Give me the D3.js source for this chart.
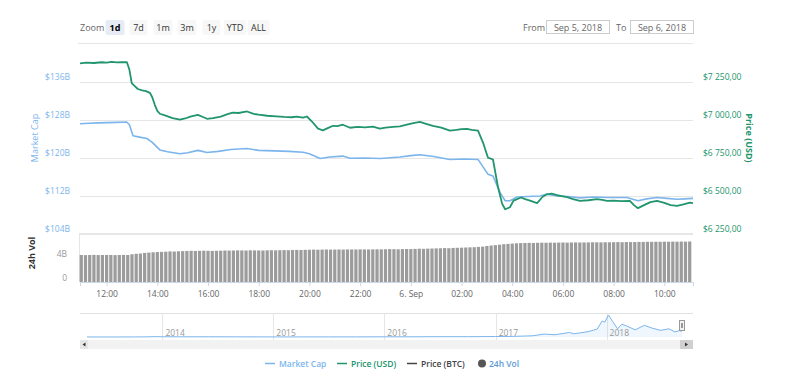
<!DOCTYPE html>
<html>
<head>
<meta charset="utf-8">
<script src="https://cdn.jsdelivr.net/npm/d3@7"></script>
<style>
  body { margin: 0; background: #fff; }
  svg { font-family: "Open Sans", sans-serif; display: block; }
</style>
</head>
<body>
<div id="chart"></div>
<script>
// ---- data ----
var zoomButtons = ['1d', '7d', '1m', '3m', '1y', 'YTD', 'ALL'];
var fromDate = 'Sep 5, 2018';
var toDate = 'Sep 6, 2018';

// hours since Sep 5 2018 00:00 UTC
var priceHours = [10.95, 11.2, 11.5, 11.8, 12.0, 12.2, 12.4, 12.6, 12.8, 12.9, 12.99, 13.1, 13.23, 13.4, 13.55, 13.71, 13.8, 13.9,
  14.0, 14.1, 14.3, 14.6, 14.89, 15.1, 15.3, 15.6, 15.8, 15.96, 16.2, 16.5, 16.8, 16.98, 17.2, 17.54, 17.8, 18.0, 18.33, 18.7,
  19.0, 19.3, 19.5, 19.75, 19.9, 20.1, 20.34, 20.53, 20.7, 20.93, 21.1, 21.32, 21.6, 21.9, 22.2, 22.5, 22.78, 23.0, 23.3, 23.57,
  23.8, 24.1, 24.36, 24.6, 24.87, 25.2, 25.54, 25.8, 26.0, 26.21, 26.4, 26.65, 26.85, 27.04, 27.24, 27.44, 27.6, 27.72, 27.91,
  28.05, 28.19, 28.35, 28.51, 28.7, 28.98, 29.2, 29.37, 29.55, 29.77, 30.0, 30.16, 30.4, 30.67, 31.0, 31.34, 31.55, 31.74, 32.0,
  32.3, 32.64, 32.8, 32.96, 33.2, 33.45, 33.71, 34.0, 34.25, 34.5, 34.75, 35.01, 35.13];
var priceUsd = [7372, 7378, 7375, 7380, 7377, 7383, 7379, 7381, 7380, 7330, 7243, 7225, 7204, 7195, 7190, 7178, 7150, 7100,
  7060, 7041, 7030, 7012, 7002, 7010, 7022, 7034, 7020, 7008, 7012, 7022, 7040, 7049, 7046, 7056, 7040, 7035, 7028, 7024,
  7020, 7018, 7022, 7015, 7023, 6990, 6943, 6932, 6945, 6962, 6960, 6969, 6949, 6955, 6952, 6956, 6943, 6950, 6955, 6958,
  6968, 6980, 6987, 6975, 6962, 6950, 6930, 6935, 6940, 6941, 6935, 6930, 6850, 6753, 6740, 6557, 6450, 6413, 6426,
  6470, 6479, 6490, 6479, 6470, 6453, 6495, 6511, 6515, 6505, 6498, 6492, 6480, 6468, 6472, 6479, 6475, 6468, 6470,
  6466, 6468, 6440, 6420, 6440, 6460, 6468, 6455, 6440, 6435, 6445, 6457, 6453];

var capHours = [10.95, 11.3, 11.7, 12.0, 12.4, 12.79, 12.9, 13.04, 13.3, 13.59, 13.8, 14.1, 14.4, 14.89, 15.2, 15.6, 15.96,
  16.4, 16.9, 17.54, 18.0, 18.6, 19.2, 19.75, 20.0, 20.42, 20.8, 21.32, 21.6, 22.2, 22.8, 23.57, 24.0, 24.36, 24.9, 25.54,
  26.1, 26.65, 27.04, 27.24, 27.52, 27.72, 27.91, 28.19, 28.6, 29.1, 29.37, 29.77, 30.2, 30.67, 31.2, 31.8, 32.52, 32.96,
  33.3, 33.71, 34.1, 34.5, 34.8, 35.13];
var marketCap = [127.2, 127.3, 127.4, 127.45, 127.5, 127.57, 127.0, 124.7, 124.4, 124.1, 123.3, 121.7, 121.3, 120.9, 121.1, 121.6, 121.15,
  121.4, 121.8, 122.0, 121.6, 121.5, 121.4, 121.2, 120.9, 119.9, 120.2, 120.4, 119.96, 120.0, 119.9, 120.2, 120.5, 120.7, 120.3, 119.7,
  119.8, 119.7, 116.6, 116.2, 112.7, 111.0, 111.0, 111.8, 111.9, 112.0, 112.4, 112.0, 111.9, 111.6, 111.8, 111.7, 111.7, 111.0,
  111.4, 111.7, 111.5, 111.3, 111.4, 111.5];

// 24h volume (billions), every 10 minutes from Sep 5 11:00 to Sep 6 11:00
var volume = [
  4.50, 4.48, 4.50, 4.52, 4.49, 4.50, 4.51, 4.50, 4.48, 4.50, 4.52, 4.50,
  4.62, 4.70, 4.75, 4.85, 4.90, 4.95, 5.00, 5.02, 5.05, 5.10, 5.08, 5.12,
  5.15, 5.18, 5.20, 5.18, 5.20, 5.22, 5.20, 5.18, 5.20, 5.22, 5.25, 5.24,
  5.25, 5.27, 5.26, 5.25, 5.28, 5.27, 5.26, 5.25, 5.28, 5.30, 5.28, 5.30,
  5.32, 5.30, 5.33, 5.35, 5.33, 5.36, 5.38, 5.40, 5.38, 5.40, 5.42, 5.40,
  5.40, 5.42, 5.41, 5.43, 5.42, 5.42, 5.44, 5.43, 5.42, 5.44, 5.45, 5.44,
  5.46, 5.48, 5.47, 5.45, 5.48, 5.50, 5.49, 5.52, 5.55, 5.53, 5.56, 5.58,
  5.60, 5.62, 5.65, 5.63, 5.68, 5.70, 5.72, 5.75, 5.78, 5.80, 5.85, 5.90,
  6.00, 6.08, 6.15, 6.22, 6.30, 6.35, 6.40, 6.45, 6.48, 6.50, 6.52, 6.50,
  6.53, 6.55, 6.54, 6.56, 6.55, 6.57, 6.58, 6.56, 6.58, 6.60, 6.58, 6.59,
  6.60, 6.62, 6.61, 6.60, 6.63, 6.62, 6.64, 6.65, 6.63, 6.66, 6.65, 6.66,
  6.68, 6.67, 6.70, 6.69, 6.71, 6.70, 6.72, 6.71, 6.73, 6.72, 6.74, 6.73,
  6.75];

var capTicks = [104, 112, 120, 128, 136];
var priceTicks = [6250, 6500, 6750, 7000, 7250];
var volTicks = [0, 4];

// navigator: total market cap history (billions)
var navDates = ['2013-04-28', '2013-07-01', '2013-10-01', '2013-11-15', '2013-12-05', '2014-01-01', '2014-03-01', '2014-06-01',
  '2014-09-01', '2014-12-01', '2015-01-15', '2015-04-01', '2015-07-01', '2015-10-01', '2016-01-01', '2016-04-01', '2016-06-15',
  '2016-10-01', '2017-01-01', '2017-03-01', '2017-05-01', '2017-06-10', '2017-07-15', '2017-09-01', '2017-09-15', '2017-11-01',
  '2017-12-01', '2017-12-17', '2017-12-26', '2018-01-07', '2018-01-20', '2018-02-06', '2018-02-20', '2018-03-05', '2018-04-05',
  '2018-05-05', '2018-06-01', '2018-06-28', '2018-07-25', '2018-08-14', '2018-08-28', '2018-09-06'];
var navCap = [1.5, 1.1, 2.2, 6, 14, 10, 7, 8, 5.5, 4.5, 3.2, 3.4, 4.3, 4.4, 6.6, 7.6, 11.5, 11.6, 17.7, 23, 45, 110, 85, 170, 120, 200,
  300, 600, 560, 830, 600, 310, 480, 430, 270, 440, 330, 250, 310, 190, 240, 220];
var navYears = ['2014', '2015', '2016', '2017', '2018'];

// ---- setup ----
var W = 787, H = 373;
var left = 80, right = 693;
var blue = '#7cb5ec', green = '#21956b';

var svg = d3.select('#chart').append('svg')
  .attr('width', W)
  .attr('height', H);

function hourDate(h) { return new Date(Date.UTC(2018, 8, 5) + h * 3600000); }

var x = d3.scaleUtc()
  .domain([hourDate(10.95), hourDate(35.13)])
  .range([left, right]);

var yCap = d3.scaleLinear().domain([104, 136]).range([234, 82]);
var yPrice = d3.scaleLinear().domain([6250, 7250]).range([234, 82]);
var yVol = d3.scaleLinear().domain([0, 4]).range([282, 258]);

var loc = d3.formatLocale({decimal: ',', thousands: ' ', grouping: [3], currency: ['$', '']});
var priceFmt = loc.format('$,.2f');

// ---- range selector ----
svg.append('text').attr('x', 80).attr('y', 31)
  .attr('font-size', 9).attr('fill', '#666').text('Zoom');

var btnX = [115, 138.5, 163, 187, 211.5, 235, 258.5];
var btnW = [19, 18, 19, 19, 18, 22, 22];
var btn = svg.selectAll('.btn').data(zoomButtons).enter().append('g');
btn.append('rect')
  .attr('x', function(d, i) { return btnX[i] - btnW[i] / 2; })
  .attr('y', 20).attr('width', function(d, i) { return btnW[i]; }).attr('height', 15)
  .attr('rx', 2)
  .attr('fill', function(d, i) { return i == 0 ? '#e6ebf5' : '#f7f7f7'; });
btn.append('text')
  .attr('x', function(d, i) { return btnX[i]; }).attr('y', 31)
  .attr('text-anchor', 'middle').attr('font-size', 9)
  .attr('font-weight', function(d, i) { return i == 0 ? 'bold' : 'normal'; })
  .attr('fill', function(d, i) { return i == 0 ? '#000' : '#333'; })
  .text(function(d) { return d; });

svg.append('text').attr('x', 523).attr('y', 31).attr('font-size', 9).attr('fill', '#666').text('From');
svg.append('rect').attr('x', 546.5).attr('y', 20.5).attr('width', 63).attr('height', 13)
  .attr('fill', '#fff').attr('stroke', '#ccc');
svg.append('text').attr('x', 578).attr('y', 30.5).attr('text-anchor', 'middle')
  .attr('font-size', 9).attr('fill', '#666').text(fromDate);
svg.append('text').attr('x', 616).attr('y', 31).attr('font-size', 9).attr('fill', '#666').text('To');
svg.append('rect').attr('x', 630.5).attr('y', 20.5).attr('width', 63).attr('height', 13)
  .attr('fill', '#fff').attr('stroke', '#ccc');
svg.append('text').attr('x', 662).attr('y', 30.5).attr('text-anchor', 'middle')
  .attr('font-size', 9).attr('fill', '#666').text(toDate);

svg.append('line').attr('x1', 78).attr('x2', right).attr('y1', 43.5).attr('y2', 43.5)
  .attr('stroke', '#e6e6e6');

// ---- price pane ----
svg.append('g').selectAll('line').data(capTicks).enter().append('line')
  .attr('x1', left).attr('x2', right)
  .attr('y1', function(d) { return Math.round(yCap(d)) + 0.5; })
  .attr('y2', function(d) { return Math.round(yCap(d)) + 0.5; })
  .attr('stroke', '#e6e6e6');

svg.append('g').selectAll('text').data(capTicks).enter().append('text')
  .attr('x', 70).attr('y', function(d) { return yCap(d) - 2; })
  .attr('text-anchor', 'end').attr('font-size', 8.5).attr('fill', blue)
  .text(function(d) { return '$' + d + 'B'; });

svg.append('g').selectAll('text').data(priceTicks).enter().append('text')
  .attr('x', 703).attr('y', function(d) { return yPrice(d) - 2; })
  .attr('font-size', 8.5).attr('fill', green)
  .text(function(d) { return priceFmt(d); });

svg.append('text')
  .attr('transform', 'translate(38,138) rotate(-90)')
  .attr('text-anchor', 'middle').attr('font-size', 9).attr('fill', blue)
  .text('Market Cap');
svg.append('text')
  .attr('transform', 'translate(746,138) rotate(90)')
  .attr('text-anchor', 'middle').attr('font-size', 9).attr('font-weight', 'bold').attr('fill', green)
  .text('Price (USD)');

var capLine = d3.line()
  .x(function(d, i) { return x(hourDate(capHours[i])); })
  .y(function(d) { return yCap(d); });
var priceLine = d3.line()
  .x(function(d, i) { return x(hourDate(priceHours[i])); })
  .y(function(d) { return yPrice(d); });

svg.append('path').datum(marketCap)
  .attr('d', capLine).attr('fill', 'none')
  .attr('stroke', blue).attr('stroke-width', 1.6).attr('stroke-linejoin', 'round');
svg.append('path').datum(priceUsd)
  .attr('d', priceLine).attr('fill', 'none')
  .attr('stroke', green).attr('stroke-width', 1.8).attr('stroke-linejoin', 'round');

// ---- volume pane ----
svg.append('line').attr('x1', 79).attr('x2', right).attr('y1', 233.5).attr('y2', 233.5).attr('stroke', '#e6e6e6');
svg.append('line').attr('x1', 79.5).attr('x2', 79.5).attr('y1', 233.5).attr('y2', 282).attr('stroke', '#e6e6e6');

var volTimes = d3.utcMinute.every(10).range(hourDate(11), hourDate(35.01));
var step = x(volTimes[1]) - x(volTimes[0]);

svg.append('g').selectAll('rect').data(volume).enter().append('rect')
  .attr('x', function(d, i) { return x(volTimes[i]) - step / 2 + 0.5; })
  .attr('y', function(d) { return yVol(d); })
  .attr('width', step - 1)
  .attr('height', function(d) { return yVol(0) - yVol(d); })
  .attr('fill', '#9c9c9c');

svg.append('g').selectAll('text').data(volTicks).enter().append('text')
  .attr('x', 67).attr('y', function(d) { return yVol(d) - 1.5; })
  .attr('text-anchor', 'end').attr('font-size', 8.5).attr('fill', '#999')
  .text(function(d) { return d == 0 ? '0' : d + 'B'; });

svg.append('text')
  .attr('transform', 'translate(35,253) rotate(-90)')
  .attr('text-anchor', 'middle').attr('font-size', 9).attr('font-weight', 'bold').attr('fill', '#333')
  .text('24h Vol');

// x axis
var axisX = d3.axisBottom(x)
  .ticks(d3.utcHour.every(2))
  .tickSize(4)
  .tickFormat(function(d) { return d.getUTCHours() == 0 ? d3.utcFormat('%-d. %b')(d) : d3.utcFormat('%H:%M')(d); });
var axisXG = svg.append('g')
  .attr('transform', 'translate(0,282)')
  .call(axisX);
axisXG.select('.domain').attr('stroke', '#ccd6eb');
axisXG.selectAll('.tick line').attr('stroke', '#ccd6eb');
axisXG.selectAll('.tick text').attr('fill', '#666').attr('font-size', 8.5)
  .attr('font-family', '"Open Sans", sans-serif').attr('dy', '0.9em');

// ---- navigator ----
var xNav = d3.scaleUtc()
  .domain([new Date('2013-04-28'), new Date('2018-09-06')])
  .range([87, 682]);
var yNav = d3.scaleLinear().domain([0, 830]).range([337, 315]);

svg.append('line').attr('x1', left).attr('x2', right).attr('y1', 313.5).attr('y2', 313.5).attr('stroke', '#e0e0e0');

svg.append('g').selectAll('line').data(navYears).enter().append('line')
  .attr('x1', function(d) { return Math.round(xNav(new Date(d + '-01-01'))) + 0.5; })
  .attr('x2', function(d) { return Math.round(xNav(new Date(d + '-01-01'))) + 0.5; })
  .attr('y1', 313.5).attr('y2', 340)
  .attr('stroke', '#e6e6e6');

var navArea = d3.area()
  .x(function(d, i) { return xNav(new Date(navDates[i])); })
  .y0(337)
  .y1(function(d) { return yNav(d); });
var navLine = d3.line()
  .x(function(d, i) { return xNav(new Date(navDates[i])); })
  .y(function(d) { return yNav(d); });
svg.append('path').datum(navCap).attr('d', navArea).attr('fill', 'rgba(124,181,236,0.12)');
svg.append('path').datum(navCap).attr('d', navLine).attr('fill', 'none').attr('stroke', blue).attr('stroke-width', 1);

svg.append('g').selectAll('text').data(navYears).enter().append('text')
  .attr('x', function(d) { return xNav(new Date(d + '-01-01')) + 3; })
  .attr('y', 336).attr('font-size', 8.5).attr('fill', '#999')
  .text(function(d) { return d; });

// handle
svg.append('rect').attr('x', 679.5).attr('y', 320.5).attr('width', 5).attr('height', 10)
  .attr('fill', '#f2f2f2').attr('stroke', '#999');
svg.append('line').attr('x1', 681.5).attr('x2', 681.5).attr('y1', 323).attr('y2', 328).attr('stroke', '#999');
svg.append('line').attr('x1', 682.5).attr('x2', 682.5).attr('y1', 323).attr('y2', 328).attr('stroke', '#999');

// scrollbar
svg.append('rect').attr('x', left).attr('y', 340).attr('width', right - left).attr('height', 9).attr('fill', '#f2f2f2');
svg.append('rect').attr('x', left).attr('y', 340).attr('width', 8).attr('height', 9).attr('fill', '#e6e6e6');
svg.append('rect').attr('x', 680).attr('y', 340).attr('width', right - 680).attr('height', 9).attr('fill', '#d0d0d0');
svg.append('path').attr('d', 'M85.5,342.5 L82.5,344.5 L85.5,346.5 Z').attr('fill', '#333');
svg.append('path').attr('d', 'M685,342.5 L688,344.5 L685,346.5 Z').attr('fill', '#333');

// ---- legend ----
var legendNames = ['Market Cap', 'Price (USD)', 'Price (BTC)', '24h Vol'];
var legendColors = [blue, green, '#434348', '#666'];
var legendTextColors = [blue, green, '#434348', '#5b9bd5'];
var legendX = [265, 337, 407, 477];
var lg = svg.selectAll('.legend').data(legendNames).enter().append('g');
lg.filter(function(d, i) { return i < 3; }).append('line')
  .attr('x1', function(d) { return legendX[legendNames.indexOf(d)]; })
  .attr('x2', function(d) { return legendX[legendNames.indexOf(d)] + 10; })
  .attr('y1', 363.5).attr('y2', 363.5)
  .attr('stroke', function(d) { return legendColors[legendNames.indexOf(d)]; })
  .attr('stroke-width', 1.5);
svg.append('circle').attr('cx', 482).attr('cy', 363.5).attr('r', 4).attr('fill', '#555');
lg.append('text')
  .attr('x', function(d, i) { return i < 3 ? legendX[i] + 14 : 489; })
  .attr('y', 366.5)
  .attr('font-size', 8.5).attr('font-weight', 600)
  .attr('fill', function(d, i) { return legendTextColors[i]; })
  .text(function(d) { return d; });
</script>
</body>
</html>
